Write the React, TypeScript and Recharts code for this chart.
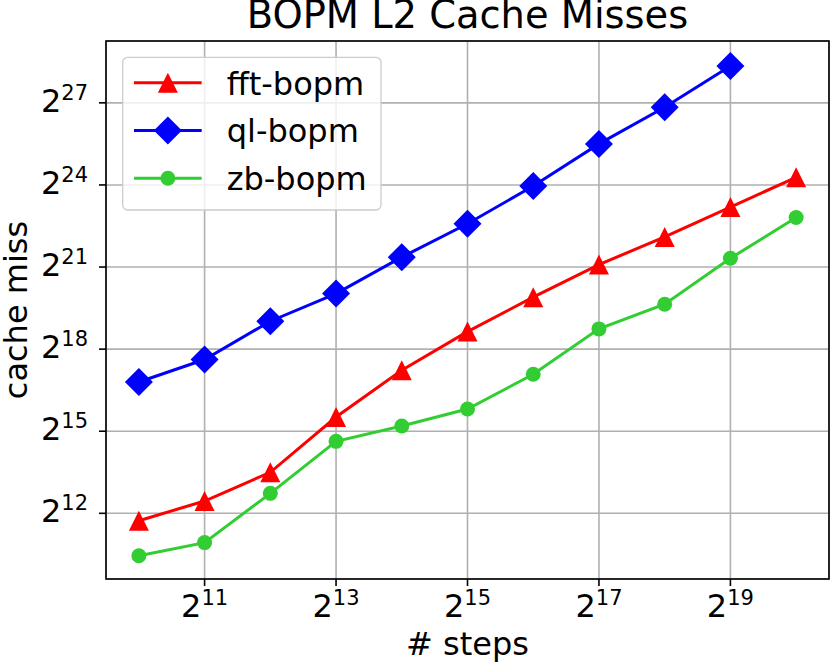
import { LineChart, Line, XAxis, YAxis, CartesianGrid } from 'recharts'

const steps = [1024, 2048, 4096, 8192, 16384, 32768, 65536, 131072, 262144, 524288, 1048576]
// cache misses, as powers of two
const fftLog2 = [11.73, 12.45, 13.5, 15.52, 17.23, 18.64, 19.9, 21.09, 22.1, 23.19, 24.28]
const qlLog2 = [16.8, 17.62, 19.02, 20.03, 21.36, 22.58, 23.96, 25.5, 26.84, 28.35]
const zbLog2 = [10.45, 10.93, 12.73, 14.63, 15.19, 15.81, 17.08, 18.74, 19.64, 21.32, 22.81]
const xTicks = [2048, 8192, 32768, 131072, 524288]
const yTicks = [4096, 32768, 262144, 2097152, 16777216, 134217728]

const data = steps.map((s, i) => ({
  steps: s,
  fft: 2 ** fftLog2[i],
  ql: qlLog2[i] === undefined ? null : 2 ** qlLog2[i],
  zb: 2 ** zbLog2[i],
}))

const series = [
  { key: 'fft', name: 'fft-bopm', color: '#ff0000', shape: 'tri' },
  { key: 'ql', name: 'ql-bopm', color: '#0000ff', shape: 'dia' },
  { key: 'zb', name: 'zb-bopm', color: '#32cd32', shape: 'dot' },
]

const FONT = '"DejaVu Sans", sans-serif'

function Marker({ cx, cy, shape, color }: any) {
  if (shape === 'tri')
    return <polygon points={`${cx},${cy - 10} ${cx - 10},${cy + 10} ${cx + 10},${cy + 10}`} fill={color} />
  if (shape === 'dia')
    return <polygon points={`${cx},${cy - 14} ${cx + 14},${cy} ${cx},${cy + 14} ${cx - 14},${cy}`} fill={color} />
  return <circle cx={cx} cy={cy} r={7.5} fill={color} />
}

const XTick = ({ x, y, payload }: any) => (
  <text x={x} y={y + 31} textAnchor="middle" fontSize={32} fill="#000" fontFamily={FONT}>
    2<tspan dy={-12} fontSize={21}>{Math.round(Math.log2(payload.value))}</tspan>
  </text>
)

const YTick = ({ x, y, payload }: any) => (
  <text x={x} y={y + 9} textAnchor="end" fontSize={32} fill="#000" fontFamily={FONT}>
    2<tspan dy={-12} fontSize={21}>{Math.round(Math.log2(payload.value))}</tspan>
  </text>
)

export default function App() {
  return (
    <div style={{ position: 'relative', width: 830, height: 665, background: '#fff', fontFamily: FONT }}>
      <style>{'body{margin:0}'}</style>
      <LineChart width={830} height={665} data={data} margin={{ top: 41, right: 1, left: 0, bottom: 0 }}>
        <CartesianGrid stroke="#b0b0b0" strokeWidth={1.6} />
        <XAxis
          dataKey="steps"
          type="number"
          scale="log"
          domain={[2 ** 9.5, 2 ** 20.5]}
          allowDataOverflow
          ticks={xTicks}
          height={86}
          axisLine={false}
          tickLine={{ stroke: '#000', strokeWidth: 1.6 }}
          tickSize={7}
          tickMargin={0}
          tick={<XTick />}
          interval={0}
        />
        <YAxis
          type="number"
          scale="log"
          domain={[2 ** 9.6, 2 ** 29.26]}
          allowDataOverflow
          ticks={yTicks}
          width={106}
          axisLine={false}
          tickLine={{ stroke: '#000', strokeWidth: 1.6 }}
          tickSize={7}
          tickMargin={11}
          tick={<YTick />}
          interval={0}
        />
        {series.map((s) => (
          <Line
            key={s.key}
            dataKey={s.key}
            name={s.name}
            stroke={s.color}
            strokeWidth={3}
            isAnimationActive={false}
            dot={(p: any) =>
              p.cx == null || p.cy == null ? (
                <g key={`${s.key}-${p.index}`} />
              ) : (
                <Marker key={`${s.key}-${p.index}`} cx={p.cx} cy={p.cy} shape={s.shape} color={s.color} />
              )
            }
            activeDot={false}
          />
        ))}
      </LineChart>
      <svg
        width={830}
        height={665}
        style={{ position: 'absolute', left: 0, top: 0, pointerEvents: 'none' }}
        fontFamily={FONT}
      >
        <rect x={106} y={41} width={723} height={538} fill="none" stroke="#000" strokeWidth={1.6} />
        <text x={467.5} y={27.5} textAnchor="middle" fontSize={38.4} fill="#000">
          BOPM L2 Cache Misses
        </text>
        <text x={467.5} y={655} textAnchor="middle" fontSize={32} fill="#000">
          # steps
        </text>
        <text x={27} y={310} textAnchor="middle" fontSize={32} fill="#000" transform="rotate(-90, 27, 310)">
          cache miss
        </text>
        <g transform="translate(122.7, 57.3)">
          <rect x={0} y={0} width={258.3} height={152.7} rx={5} fill="#fff" fillOpacity={0.8} stroke="#cccccc" strokeWidth={1.3} />
          {series.map((s, i) => {
            const cy = 25.4 + i * 47.8
            return (
              <g key={s.key}>
                <line x1={11.3} x2={79} y1={cy} y2={cy} stroke={s.color} strokeWidth={3} />
                <Marker cx={45.2} cy={cy} shape={s.shape} color={s.color} />
                <text x={104} y={cy + 12} fontSize={32} fill="#000">
                  {s.name}
                </text>
              </g>
            )
          })}
        </g>
      </svg>
    </div>
  )
}
